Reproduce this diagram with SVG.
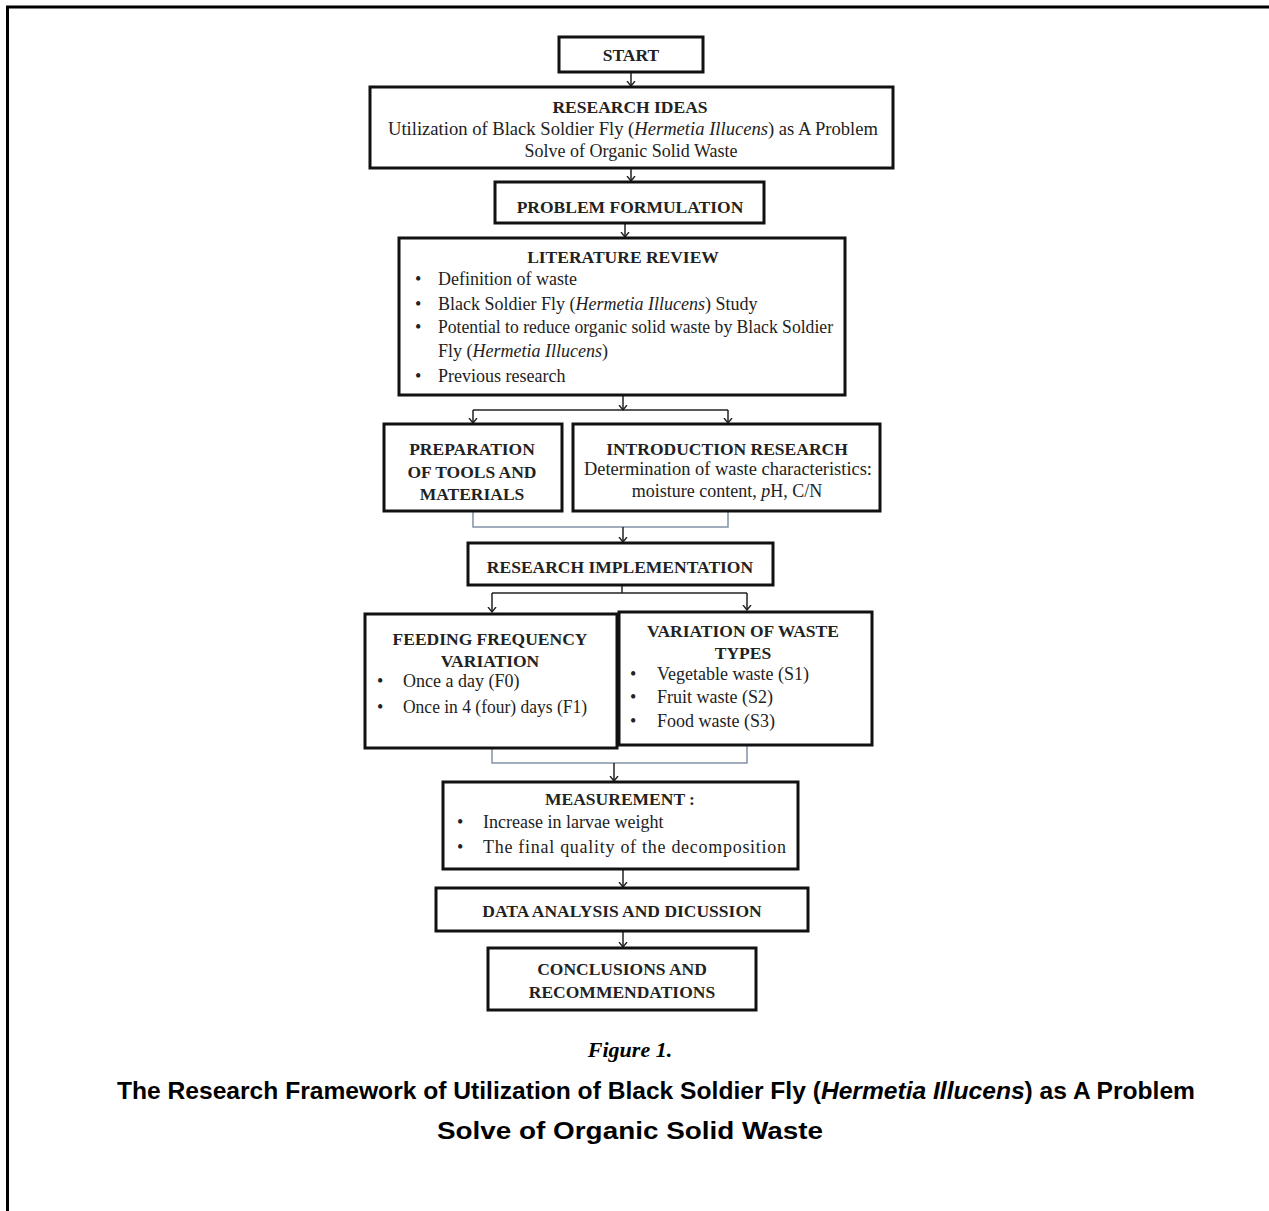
<svg xmlns="http://www.w3.org/2000/svg" width="1269" height="1211" viewBox="0 0 1269 1211">
<style>
.box{fill:#fff;stroke:#111;stroke-width:3}
.t{font-family:"Liberation Serif","Times New Roman",serif;fill:#222;font-size:18px}
.h{font-weight:bold;font-size:17.5px;text-anchor:middle}
.c{text-anchor:middle}
.ln{fill:none;stroke:#222;stroke-width:1.5}
.mg{fill:none;stroke:#8391a8;stroke-width:1.5}
.cap{font-family:"Liberation Sans",Arial,sans-serif;font-weight:bold;font-size:23px;fill:#000;text-anchor:middle}
</style>
<defs>
<marker id="ah" markerUnits="userSpaceOnUse" markerWidth="6" markerHeight="10" refX="5.5" refY="5" orient="auto" viewBox="0 0 6 10">
<path d="M0.5,1 L5.5,5 L0.5,9" fill="none" stroke="#222" stroke-width="1.4"/>
</marker>
</defs>
<rect width="1269" height="1211" fill="#fff"/>
<path d="M7.5,1211 V7 H1269" fill="none" stroke="#000" stroke-width="3"/>

<g id="connectors">
<line class="ln" x1="631" y1="72" x2="631" y2="86" marker-end="url(#ah)"/>
<line class="ln" x1="631" y1="168" x2="631" y2="181" marker-end="url(#ah)"/>
<line class="ln" x1="625" y1="223" x2="625" y2="237" marker-end="url(#ah)"/>
<line class="ln" x1="623" y1="395" x2="623" y2="410" marker-end="url(#ah)"/>
<line class="ln" x1="473" y1="410" x2="728" y2="410"/>
<line class="ln" x1="473" y1="410" x2="473" y2="423" marker-end="url(#ah)"/>
<line class="ln" x1="728" y1="410" x2="728" y2="423" marker-end="url(#ah)"/>
<path class="mg" d="M473,511 V527 H728 V511"/>
<line class="ln" x1="623" y1="527" x2="623" y2="542" marker-end="url(#ah)"/>
<line class="ln" x1="622" y1="585" x2="622" y2="593"/>
<line class="ln" x1="492" y1="593" x2="747" y2="593"/>
<line class="ln" x1="492" y1="593" x2="492" y2="612" marker-end="url(#ah)"/>
<line class="ln" x1="747" y1="593" x2="747" y2="610" marker-end="url(#ah)"/>
<path class="mg" d="M492,748 V763 H747 V745"/>
<line class="ln" x1="614" y1="763" x2="614" y2="781" marker-end="url(#ah)"/>
<line class="ln" x1="623" y1="869" x2="623" y2="887" marker-end="url(#ah)"/>
<line class="ln" x1="623" y1="931" x2="623" y2="947" marker-end="url(#ah)"/>
</g>

<g id="start">
<rect class="box" x="559" y="37" width="144" height="35"/>
<text class="t h" x="631" y="61">START</text>
</g>

<g id="research-ideas">
<rect class="box" x="370" y="87" width="523" height="81"/>
<text class="t h" x="630" y="113">RESEARCH IDEAS</text>
<text class="t c" x="633" y="135" textLength="490" lengthAdjust="spacingAndGlyphs">Utilization of Black Soldier Fly (<tspan font-style="italic">Hermetia Illucens</tspan>) as A Problem</text>
<text class="t c" x="631" y="157">Solve of Organic Solid Waste</text>
</g>

<g id="problem-formulation">
<rect class="box" x="495" y="182" width="269" height="41"/>
<text class="t h" x="630" y="213">PROBLEM  FORMULATION</text>
</g>

<g id="literature-review">
<rect class="box" x="399" y="238" width="446" height="157"/>
<text class="t h" x="623" y="263">LITERATURE REVIEW</text>
<text class="t" x="415" y="285">•</text><text class="t" x="438" y="285">Definition of waste</text>
<text class="t" x="415" y="310">•</text><text class="t" x="438" y="310">Black Soldier Fly (<tspan font-style="italic">Hermetia Illucens</tspan>) Study</text>
<text class="t" x="415" y="333">•</text><text class="t" x="438" y="333" textLength="395" lengthAdjust="spacingAndGlyphs">Potential to reduce organic solid waste by Black Soldier</text>
<text class="t" x="438" y="357">Fly (<tspan font-style="italic">Hermetia Illucens</tspan>)</text>
<text class="t" x="415" y="382">•</text><text class="t" x="438" y="382">Previous research</text>
</g>

<g id="preparation">
<rect class="box" x="384" y="424" width="178" height="87"/>
<text class="t h" x="472" y="455">PREPARATION</text>
<text class="t h" x="472" y="478">OF TOOLS  AND</text>
<text class="t h" x="472" y="500">MATERIALS</text>
</g>

<g id="introduction-research">
<rect class="box" x="573" y="424" width="307" height="87"/>
<text class="t h" x="727" y="455">INTRODUCTION RESEARCH</text>
<text class="t c" x="728" y="475" textLength="288" lengthAdjust="spacingAndGlyphs">Determination of waste characteristics:</text>
<text class="t c" x="727" y="497">moisture content, <tspan font-style="italic">p</tspan>H, C/N</text>
</g>

<g id="research-implementation">
<rect class="box" x="468" y="543" width="305" height="42"/>
<text class="t h" x="620" y="573">RESEARCH IMPLEMENTATION</text>
</g>

<g id="feeding-frequency">
<rect class="box" x="365" y="614" width="252" height="134"/>
<text class="t h" x="490" y="645">FEEDING FREQUENCY</text>
<text class="t h" x="490" y="667">VARIATION</text>
<text class="t" x="377" y="687">•</text><text class="t" x="403" y="687">Once a day (F0)</text>
<text class="t" x="377" y="713">•</text><text class="t" x="403" y="713" textLength="184" lengthAdjust="spacingAndGlyphs">Once in 4 (four) days (F1)</text>
</g>

<g id="waste-types">
<rect class="box" x="619" y="612" width="253" height="133"/>
<text class="t h" x="743" y="637">VARIATION OF WASTE</text>
<text class="t h" x="743" y="659">TYPES</text>
<text class="t" x="630" y="680">•</text><text class="t" x="657" y="680">Vegetable waste (S1)</text>
<text class="t" x="630" y="703">•</text><text class="t" x="657" y="703">Fruit waste (S2)</text>
<text class="t" x="630" y="727">•</text><text class="t" x="657" y="727">Food waste (S3)</text>
</g>

<g id="measurement">
<rect class="box" x="443" y="782" width="355" height="87"/>
<text class="t h" x="620" y="805">MEASUREMENT :</text>
<text class="t" x="457" y="828">•</text><text class="t" x="483" y="828">Increase in larvae weight</text>
<text class="t" x="457" y="853">•</text><text class="t" x="483" y="853" textLength="303" lengthAdjust="spacing">The final quality of the decomposition</text>
</g>

<g id="data-analysis">
<rect class="box" x="436" y="888" width="372" height="43"/>
<text class="t h" x="622" y="917">DATA ANALYSIS AND DICUSSION</text>
</g>

<g id="conclusions">
<rect class="box" x="488" y="948" width="268" height="62"/>
<text class="t h" x="622" y="975">CONCLUSIONS AND</text>
<text class="t h" x="622" y="998">RECOMMENDATIONS</text>
</g>

<g id="caption">
<text x="630" y="1057" style="font-family:'Liberation Serif','Times New Roman',serif;font-style:italic;font-weight:bold;font-size:22px;fill:#000;text-anchor:middle">Figure 1.</text>
<text class="cap" x="656" y="1099" textLength="1078" lengthAdjust="spacingAndGlyphs">The Research Framework of Utilization of Black Soldier Fly (<tspan font-style="italic">Hermetia Illucens</tspan>) as A Problem</text>
<text class="cap" x="630" y="1139" textLength="386" lengthAdjust="spacingAndGlyphs">Solve of Organic Solid Waste</text>
</g>
</svg>
